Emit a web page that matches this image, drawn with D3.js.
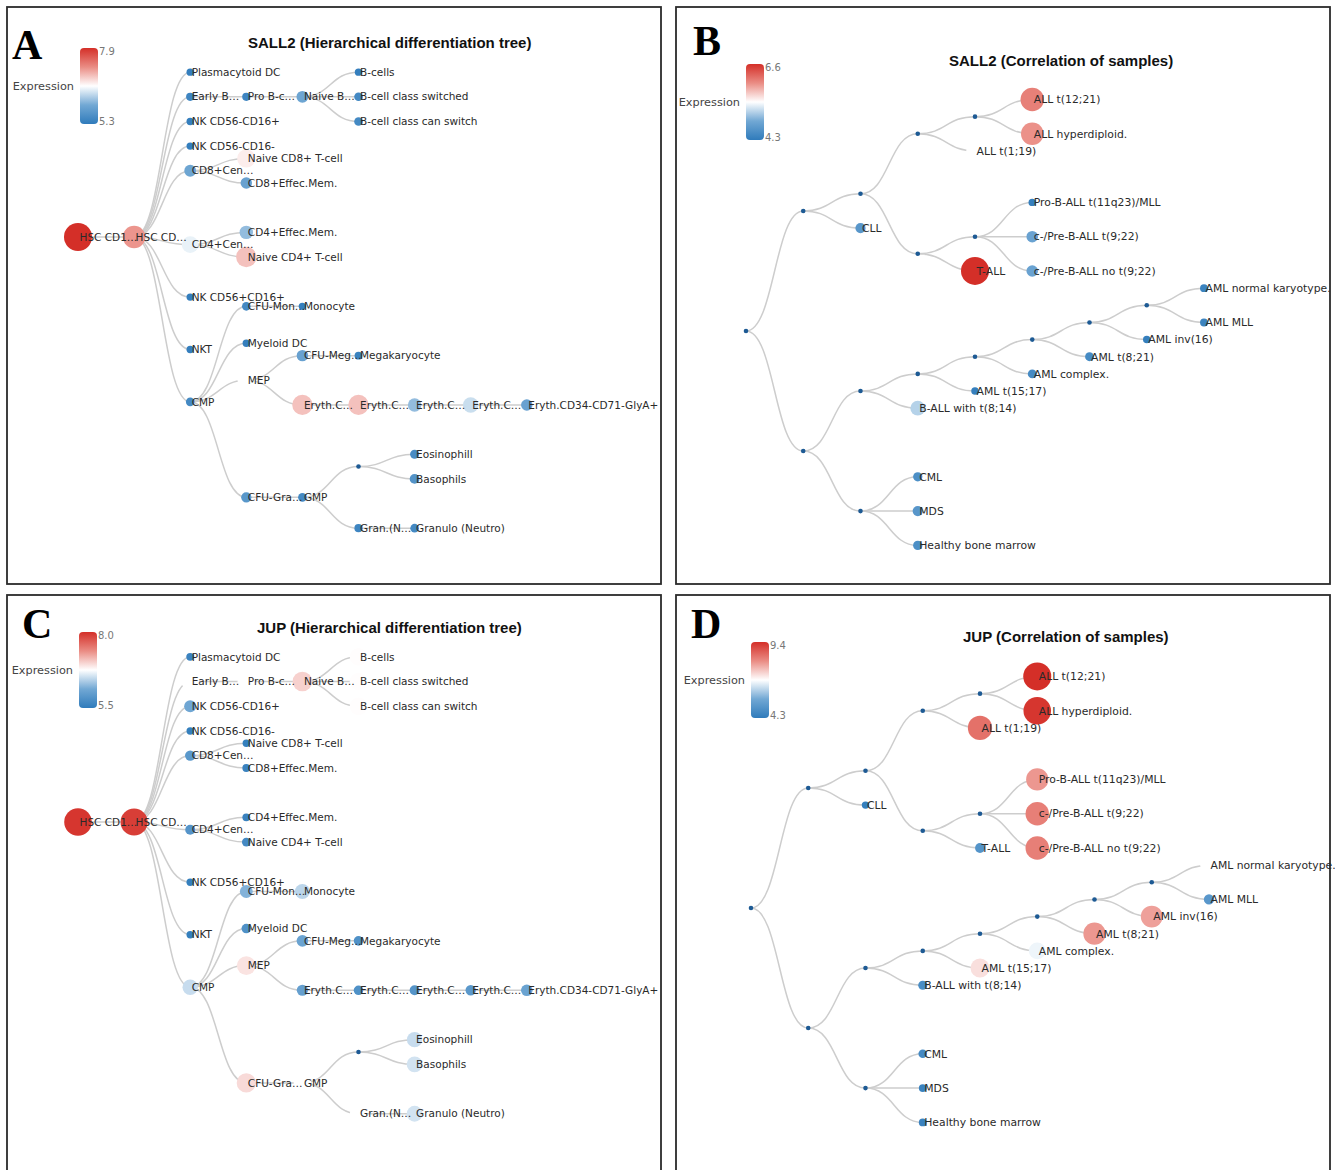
<!DOCTYPE html>
<html>
<head>
<meta charset="utf-8">
<script src="https://cdn.jsdelivr.net/npm/d3@7"></script>
<style>
  body { margin: 0; background: #fff; }
  svg text { font-family: "DejaVu Sans", Verdana, sans-serif; }
</style>
</head>
<body>
<svg id="fig" width="1335" height="1170"></svg>
<script>
// hierarchical differentiation tree: [id, parent, label]
const treeRows = [
  ["hsc1", "", "HSC CD1…"],
  ["hsc2", "hsc1", "HSC CD…"],
  ["pdc", "hsc2", "Plasmacytoid DC"],
  ["earlyb", "hsc2", "Early B…"],
  ["prob", "earlyb", "Pro B-c…"],
  ["naiveb", "prob", "Naive B…"],
  ["bcells", "naiveb", "B-cells"],
  ["bsw", "naiveb", "B-cell class switched"],
  ["bcan", "naiveb", "B-cell class can switch"],
  ["nk1", "hsc2", "NK CD56-CD16+"],
  ["nk2", "hsc2", "NK CD56-CD16-"],
  ["cd8cen", "hsc2", "CD8+Cen…"],
  ["cd8naive", "cd8cen", "Naive CD8+ T-cell"],
  ["cd8eff", "cd8cen", "CD8+Effec.Mem."],
  ["cd4cen", "hsc2", "CD4+Cen…"],
  ["cd4eff", "cd4cen", "CD4+Effec.Mem."],
  ["cd4naive", "cd4cen", "Naive CD4+ T-cell"],
  ["nk3", "hsc2", "NK CD56+CD16+"],
  ["nkt", "hsc2", "NKT"],
  ["cmp", "hsc2", "CMP"],
  ["cfumon", "cmp", "CFU-Mon…"],
  ["mono", "cfumon", "Monocyte"],
  ["mdc", "cmp", "Myeloid DC"],
  ["mep", "cmp", "MEP"],
  ["cfumeg", "mep", "CFU-Meg…"],
  ["mega", "cfumeg", "Megakaryocyte"],
  ["ery1", "mep", "Eryth.C…"],
  ["ery2", "ery1", "Eryth.C…"],
  ["ery3", "ery2", "Eryth.C…"],
  ["ery4", "ery3", "Eryth.C…"],
  ["ery5", "ery4", "Eryth.CD34-CD71-GlyA+"],
  ["cfugra", "cmp", "CFU-Gra…"],
  ["gmp", "cfugra", "GMP"],
  ["gnode", "gmp", ""],
  ["eos", "gnode", "Eosinophill"],
  ["baso", "gnode", "Basophils"],
  ["granN", "gmp", "Gran.(N…"],
  ["neutro", "granN", "Granulo (Neutro)"]
];

const sall2TreeValues = [
  7.9, 7.2, 5.35, 5.45, 5.45, 5.9, 5.35, 5.5, 5.5, 5.35, 5.35,
  5.9, 6.7, 5.85, 6.5, 6.1, 6.95, 5.35, 5.35, 5.5, 5.5, 5.35,
  5.35, 6.6, 5.85, 5.4, 6.95, 6.95, 6.1, 6.35, 5.85, 5.7, 5.5,
  null, 5.55, 5.65, 5.45, 5.5
];

const jupTreeValues = [
  7.95, 7.9, 5.6, 6.75, 6.75, 7.0, 6.76, 6.76, 6.76, 6.1, 5.55,
  5.9, 5.55, 5.6, 5.85, 5.6, 5.7, 5.55, 5.55, 6.5, 6.2, 6.45,
  5.8, 6.9, 6.05, 5.8, 6.0, 5.8, 5.85, 5.9, 6.05, 6.95, 6.75,
  null, 6.5, 6.55, 6.75, 6.55
];

// correlation of samples dendrogram: [id, parent, label]
const sampleRows = [
  ["n0", "", ""],
  ["n1", "n0", ""],
  ["n2", "n1", ""],
  ["n3", "n2", ""],
  ["n4", "n3", ""],
  ["all1221", "n4", "ALL t(12;21)"],
  ["allhyp", "n4", "ALL hyperdiploid."],
  ["all119", "n3", "ALL t(1;19)"],
  ["n5", "n2", ""],
  ["n6", "n5", ""],
  ["prob", "n6", "Pro-B-ALL t(11q23)/MLL"],
  ["cpre922", "n6", "c-/Pre-B-ALL t(9;22)"],
  ["cpreno", "n6", "c-/Pre-B-ALL no t(9;22)"],
  ["tall", "n5", "T-ALL"],
  ["cll", "n1", "CLL"],
  ["n7", "n0", ""],
  ["n8", "n7", ""],
  ["n9", "n8", ""],
  ["n10", "n9", ""],
  ["n11", "n10", ""],
  ["n12", "n11", ""],
  ["n13", "n12", ""],
  ["amlnk", "n13", "AML normal karyotype."],
  ["amlmll", "n13", "AML MLL"],
  ["amlinv16", "n12", "AML inv(16)"],
  ["aml821", "n11", "AML t(8;21)"],
  ["amlcomplex", "n10", "AML complex."],
  ["aml1517", "n9", "AML t(15;17)"],
  ["ball814", "n8", "B-ALL with t(8;14)"],
  ["n14", "n7", ""],
  ["cml", "n14", "CML"],
  ["mds", "n14", "MDS"],
  ["hbm", "n14", "Healthy bone marrow"]
];

const sall2SampleValues = [
  null, null, null, null, null, 6.1, 6.0, 5.45, null, null, 4.35, 4.8, 4.8, 6.6, 4.65,
  null, null, null, null, null, null, null, 4.4, 4.4, 4.35, 4.5, 4.5, 4.35, 5.15,
  null, 4.55, 4.65, 4.55
];

const jupSampleValues = [
  null, null, null, null, null, 9.4, 9.3, 8.5, null, null, 8.0, 8.3, 8.3, 5.0, 4.4,
  null, null, null, null, null, null, null, 6.85, 5.1, 7.9, 8.0, 6.7, 7.2, 4.8,
  null, 4.7, 4.5, 4.5
];

const sall2TreeRange = [5.3, 7.9];
const jupTreeRange = [5.5, 8.0];
const sall2SampleRange = [4.3, 6.6];
const jupSampleRange = [4.3, 9.4];

const panels = [
  { letter: "A", title: "SALL2 (Hierarchical differentiation tree)", rows: treeRows, values: sall2TreeValues,
    range: sall2TreeRange, box: [7, 7, 654, 577], letterAt: [12, 59], titleAt: [248, 48],
    legendAt: [80, 48], rootAt: [78, 237], nodeSize: [24.65, 56.1], labelSize: 10.5 },
  { letter: "B", title: "SALL2 (Correlation of samples)", rows: sampleRows, values: sall2SampleValues,
    range: sall2SampleRange, box: [676, 7, 654, 577], letterAt: [693, 55], titleAt: [949, 66],
    legendAt: [746, 64], rootAt: [746, 331], nodeSize: [34.3, 57.25], labelSize: 10.8 },
  { letter: "C", title: "JUP (Hierarchical differentiation tree)", rows: treeRows, values: jupTreeValues,
    range: jupTreeRange, box: [7, 595, 654, 590], letterAt: [22, 638], titleAt: [257, 633],
    legendAt: [79, 632], rootAt: [78, 822], nodeSize: [24.7, 56.1], labelSize: 10.5 },
  { letter: "D", title: "JUP (Correlation of samples)", rows: sampleRows, values: jupSampleValues,
    range: jupSampleRange, box: [676, 595, 654, 590], letterAt: [691, 638], titleAt: [963, 642],
    legendAt: [751, 642], rootAt: [751, 908], nodeSize: [34.3, 57.25], labelSize: 10.8 }
];

// blue -> white -> red, with quarter stops to shape the mid tones
const colorStops = ["#2f7bbb", "#72a8d4", "#ffffff", "#ea8c84", "#d42f28"];

const svg = d3.select("#fig");
const defs = svg.append("defs");

panels.forEach(p => {
  const [lo, hi] = p.range;
  const color = d3.scaleLinear()
                  .domain(d3.range(5).map(i => lo + (hi - lo) * i / 4))
                  .range(colorStops)
                  .clamp(true);
  const radius = d3.scaleLinear().domain([lo, hi]).range([3.5, 14]).clamp(true);

  // frame, letter, title
  svg.append("rect")
     .attr("x", p.box[0]).attr("y", p.box[1])
     .attr("width", p.box[2]).attr("height", p.box[3])
     .attr("fill", "none").attr("stroke", "#2b2b2b").attr("stroke-width", 1.8);

  svg.append("text")
     .attr("x", p.letterAt[0]).attr("y", p.letterAt[1])
     .style("font-family", "'Liberation Serif', 'Times New Roman', serif")
     .style("font-weight", "bold").style("font-size", "42px")
     .attr("fill", "#000")
     .text(p.letter);

  svg.append("text")
     .attr("x", p.titleAt[0]).attr("y", p.titleAt[1])
     .style("font-family", "'Liberation Sans', Arial, sans-serif")
     .style("font-weight", "bold").style("font-size", "15px")
     .attr("fill", "#111")
     .text(p.title);

  // legend
  const gradId = "grad" + p.letter;
  const grad = defs.append("linearGradient").attr("id", gradId)
                   .attr("x1", 0).attr("y1", 0).attr("x2", 0).attr("y2", 1);
  grad.selectAll("stop")
      .data(d3.range(5).map(i => hi - (hi - lo) * i / 4))
      .join("stop")
      .attr("offset", (d, i) => (i * 25) + "%")
      .attr("stop-color", d => color(d));

  const [lx, ly] = p.legendAt;
  const lw = 18, lh = 76;
  svg.append("rect")
     .attr("x", lx).attr("y", ly).attr("width", lw).attr("height", lh)
     .attr("rx", 4).attr("fill", `url(#${gradId})`);

  const legendText = svg.append("g")
     .style("font-family", "'Liberation Sans', Arial, sans-serif");
  legendText.append("text")
     .attr("x", lx + lw + 1).attr("y", ly + 7)
     .style("font-size", "10px").attr("fill", "#777")
     .text(hi.toFixed(1));
  legendText.append("text")
     .attr("x", lx + lw + 1).attr("y", ly + lh + 1)
     .style("font-size", "10px").attr("fill", "#777")
     .text(lo.toFixed(1));
  legendText.append("text")
     .attr("x", lx - 6).attr("y", ly + lh / 2 + 4)
     .attr("text-anchor", "end")
     .style("font-size", "11.3px").attr("fill", "#444")
     .text("Expression");

  // tree
  const table = p.rows.map((r, i) => ({ id: r[0], parent: r[1], label: r[2], value: p.values[i] }));
  const root = d3.stratify().id(d => d.id).parentId(d => d.parent)(table);
  d3.tree().nodeSize(p.nodeSize)(root);

  const tg = svg.append("g").attr("transform", `translate(${p.rootAt[0]},${p.rootAt[1]})`);

  tg.selectAll("path.link")
    .data(root.links())
    .join("path")
    .attr("class", "link")
    .attr("d", d3.linkHorizontal().x(d => d.y).y(d => d.x))
    .attr("fill", "none")
    .attr("stroke", "#cdcdcd")
    .attr("stroke-width", 1.5);

  tg.selectAll("circle")
    .data(root.descendants())
    .join("circle")
    .attr("cx", d => d.y)
    .attr("cy", d => d.x)
    .attr("r", d => d.data.value == null ? 2.3 : radius(d.data.value))
    .attr("fill", d => d.data.value == null ? "#1d5a94" : color(d.data.value));

  tg.selectAll("text")
    .data(root.descendants().filter(d => d.data.label))
    .join("text")
    .attr("x", d => d.y + 1.5)
    .attr("y", d => d.x)
    .attr("dy", "0.35em")
    .style("font-size", p.labelSize + "px")
    .attr("fill", "#2a2a2a")
    .text(d => d.data.label);
});
</script>
</body>
</html>
